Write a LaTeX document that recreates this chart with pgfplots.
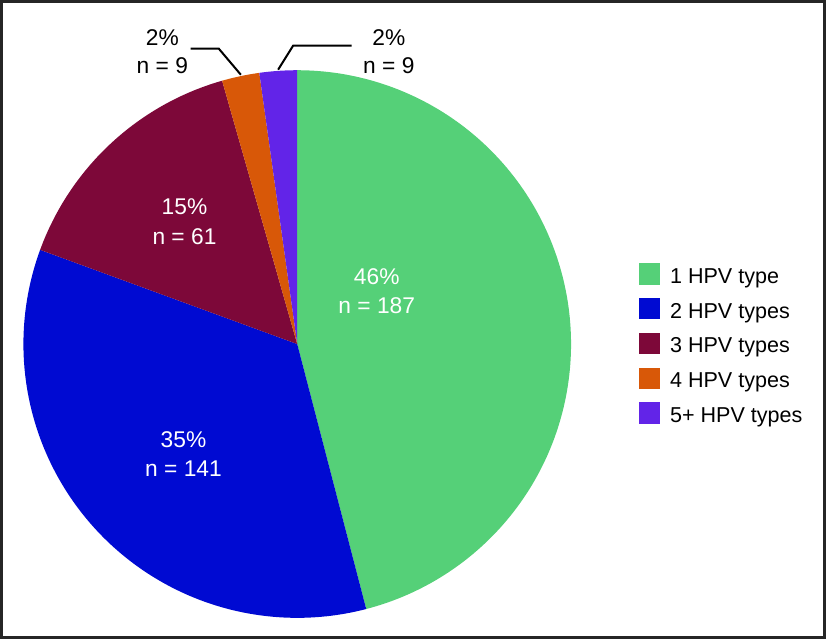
\documentclass[border=0pt]{standalone}
\usepackage{fontspec}
\setmainfont{Liberation Sans}
\usepackage{pgfplots}
\usepackage{pgfplotstable}
\pgfplotsset{compat=1.18}

\definecolor{hpvgreen}{HTML}{55D078}
\definecolor{hpvblue}{HTML}{000AD2}
\definecolor{hpvmaroon}{HTML}{7D0839}
\definecolor{hpvorange}{HTML}{D85808}
\definecolor{hpvpurple}{HTML}{6224E8}

% number of patients by count of HPV types
\pgfplotstableread{
group count
1 187
2 141
3 61
4 9
5 9
}\hpvdata

\begin{document}%
\pgfplotstablegetelem{0}{count}\of\hpvdata\pgfmathsetmacro\nA{\pgfplotsretval}%
\pgfplotstablegetelem{1}{count}\of\hpvdata\pgfmathsetmacro\nB{\pgfplotsretval}%
\pgfplotstablegetelem{2}{count}\of\hpvdata\pgfmathsetmacro\nC{\pgfplotsretval}%
\pgfplotstablegetelem{3}{count}\of\hpvdata\pgfmathsetmacro\nD{\pgfplotsretval}%
\pgfplotstablegetelem{4}{count}\of\hpvdata\pgfmathsetmacro\nE{\pgfplotsretval}%
\pgfmathsetmacro\tot{\nA+\nB+\nC+\nD+\nE}%
% slice boundaries, clockwise from the top
\pgfmathsetmacro\aA{90}%
\pgfmathsetmacro\aB{\aA-360*(\nA/\tot)}%
\pgfmathsetmacro\aC{\aB-360*(\nB/\tot)}%
\pgfmathsetmacro\aD{\aC-360*(\nC/\tot)}%
\pgfmathsetmacro\aE{\aD-360*(\nD/\tot)}%
\pgfmathsetmacro\aF{\aE-360*(\nE/\tot)}%
\begin{tikzpicture}
\begin{axis}[
    x=0.5pt, y=0.5pt, y dir=reverse,
    xmin=0, xmax=826, ymin=0, ymax=640,
    hide axis, clip=false,
    legend style={at={(axis cs:635,264)}, anchor=north west,
        draw=none, fill=none, inner sep=0pt,
        row sep=5.8pt, column sep=5pt,
        nodes={inner sep=0pt},
        font=\fontsize{10.7}{12.5}\selectfont},
    legend cell align=left,
    legend image code/.code={\fill[#1] (0pt,-3.5pt) rectangle (10.5pt,7pt);},
]
\addplot[fill=hpvgreen, draw=none, domain=\aB:\aA, samples=150, variable=\t]
    ({296+272*cos(\t)}, {344.5-272*sin(\t)}) -- (axis cs:296,344.5) -- cycle;
\addlegendentry{1 HPV type}
\addplot[fill=hpvblue, draw=none, domain=\aC:\aB, samples=120, variable=\t]
    ({296+272*cos(\t)}, {344.5-272*sin(\t)}) -- (axis cs:296,344.5) -- cycle;
\addlegendentry{2 HPV types}
\addplot[fill=hpvmaroon, draw=none, domain=\aD:\aC, samples=60, variable=\t]
    ({296+272*cos(\t)}, {344.5-272*sin(\t)}) -- (axis cs:296,344.5) -- cycle;
\addlegendentry{3 HPV types}
\addplot[fill=hpvorange, draw=none, domain=\aE:\aD, samples=12, variable=\t]
    ({296+272*cos(\t)}, {344.5-272*sin(\t)}) -- (axis cs:296,344.5) -- cycle;
\addlegendentry{4 HPV types}
\addplot[fill=hpvpurple, draw=none, domain=\aF:\aE, samples=12, variable=\t]
    ({296+272*cos(\t)}, {344.5-272*sin(\t)}) -- (axis cs:296,344.5) -- cycle;
\addlegendentry{5+ HPV types}

% slice labels
\begin{scope}[every node/.style={align=center, font=\fontsize{11.3}{14.5}\selectfont}]
\node[white] at (axis cs:375,292) {46\%\\n = 187};
\node[white] at (axis cs:183,454) {35\%\\n = 141};
\node[white] at (axis cs:184,223) {15\%\\n = 61};
\end{scope}
\begin{scope}[every node/.style={align=center, font=\fontsize{11.3}{13.8}\selectfont}]
\node[black] at (axis cs:162,54) {2\%\\n = 9};
\node[black] at (axis cs:387,54) {2\%\\n = 9};
\end{scope}
% leader lines for the small slices
\draw[black, line width=1pt] (axis cs:190,51) -- (axis cs:218,51) -- (axis cs:240,77);
\draw[black, line width=1pt] (axis cs:277,72) -- (axis cs:292,48) -- (axis cs:350,48);
% outer frame
\draw[black!85, line width=1.25pt] (axis cs:2,4) rectangle (axis cs:820,636);
\end{axis}
\end{tikzpicture}
\end{document}
